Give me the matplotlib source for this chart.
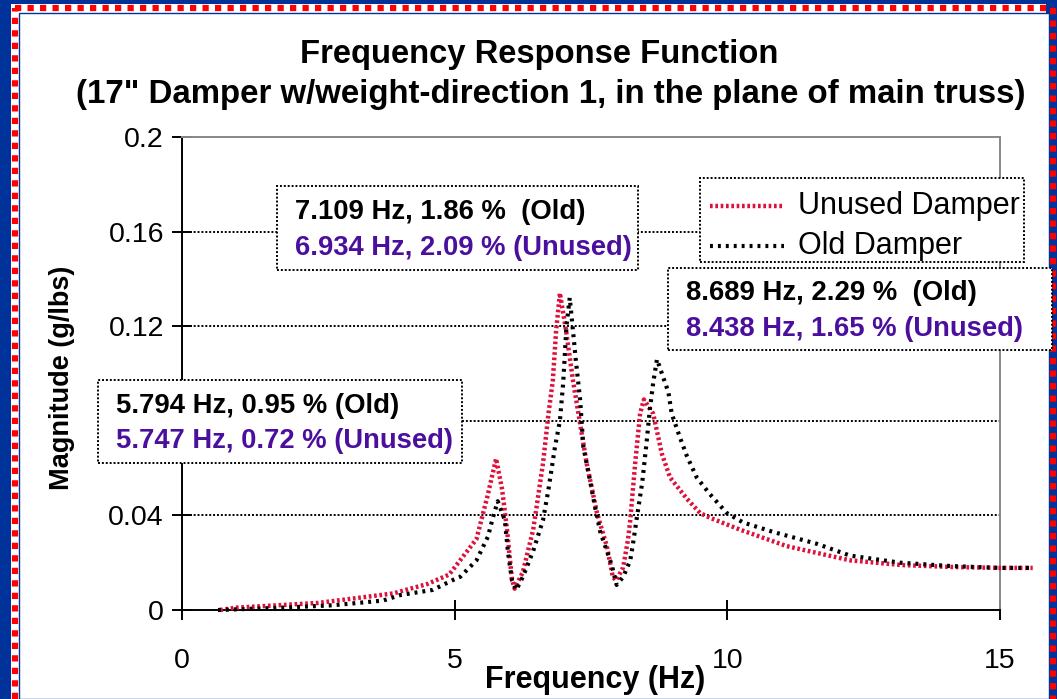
import matplotlib
matplotlib.use("Agg")
import matplotlib.pyplot as plt
from matplotlib.patches import Rectangle
from matplotlib.lines import Line2D

plt.rcParams['font.family'] = ['Liberation Sans', 'DejaVu Sans']

# Unused damper (red dotted)
unused_f = [0.7, 1.0, 2.5, 3.87, 4.5, 4.9, 5.1, 5.4, 5.6, 5.76, 5.87, 5.96, 6.05, 6.1,
            6.25, 6.44, 6.62, 6.72, 6.8, 6.86, 6.93, 7.03, 7.17, 7.42, 7.61, 7.79, 7.9,
            7.96, 8.09, 8.18, 8.22, 8.31, 8.4, 8.47, 8.64, 8.8, 8.95, 9.26, 9.5, 9.68,
            10.23, 11.09, 12.25, 13.2, 14.1, 15.0, 15.6]
unused_m = [0.0, 0.001, 0.003, 0.007, 0.011, 0.015, 0.021, 0.030, 0.048, 0.064, 0.051,
            0.034, 0.013, 0.009, 0.016, 0.034, 0.062, 0.083, 0.097, 0.118, 0.134, 0.120,
            0.097, 0.062, 0.041, 0.027, 0.014, 0.0125, 0.018, 0.030, 0.038, 0.062, 0.083,
            0.089, 0.083, 0.066, 0.056, 0.047, 0.041, 0.039, 0.034, 0.027, 0.021, 0.019,
            0.0182, 0.0178, 0.0178]

# Old damper (black marks)
old_f = [0.66, 1.85, 2.77, 3.69, 4.0, 4.6, 4.97, 5.1, 5.4, 5.61, 5.7, 5.79, 5.92, 5.98,
         6.05, 6.13, 6.25, 6.44, 6.62, 6.72, 6.84, 6.93, 6.99, 7.05, 7.11, 7.17, 7.22,
         7.3, 7.36, 7.48, 7.57, 7.67, 7.79, 7.88, 7.97, 8.09, 8.22, 8.27, 8.34, 8.44,
         8.52, 8.58, 8.64, 8.71, 8.8, 8.92, 8.98, 9.13, 9.26, 9.44, 9.68, 9.99, 10.29,
         10.84, 11.64, 12.25, 13.17, 14.08, 15.0, 15.6]
old_m = [0.0, 0.001, 0.002, 0.004, 0.0063, 0.0085, 0.0127, 0.014, 0.021, 0.031, 0.039,
         0.046, 0.038, 0.024, 0.0127, 0.0085, 0.014, 0.025, 0.038, 0.051, 0.069, 0.080,
         0.096, 0.120, 0.132, 0.118, 0.106, 0.089, 0.069, 0.055, 0.044, 0.033, 0.025,
         0.019, 0.0106, 0.014, 0.021, 0.028, 0.039, 0.054, 0.071, 0.085, 0.096, 0.106,
         0.100, 0.092, 0.083, 0.073, 0.065, 0.056, 0.049, 0.041, 0.037, 0.033, 0.028,
         0.023, 0.020, 0.0186, 0.0178, 0.0178]

series_names = ["Unused Damper", "Old Damper"]
title_lines = ["Frequency Response Function",
               "(17\" Damper w/weight-direction 1, in the plane of main truss)"]
x_ticks = [0, 5, 10, 15]
y_ticks = [0, 0.04, 0.08, 0.12, 0.16, 0.2]
# the 0.08 label is hidden behind an annotation box in the original
y_ticklabels = ["0", "0.04", "", "0.12", "0.16", "0.2"]

ann_old = ["7.109 Hz, 1.86 %  (Old)", "8.689 Hz, 2.29 %  (Old)", "5.794 Hz, 0.95 % (Old)"]
ann_unused = ["6.934 Hz, 2.09 % (Unused)", "8.438 Hz, 1.65 % (Unused)", "5.747 Hz, 0.72 % (Unused)"]

RED = '#e0103c'
PURPLE = '#4b0f9e'
W, H = 1057, 699
fig = plt.figure(figsize=(W / 100, H / 100), dpi=100)
fig.patch.set_facecolor('#003399')


def fx(px):
    return px / W


def fy(py):
    return 1 - py / H


# white inner area and red dashed border
fig.patches.append(Rectangle((fx(11), 0), fx(1046 - 11), fy(4), transform=fig.transFigure,
                             facecolor='white', edgecolor='none', zorder=-3))
fig.patches.append(Rectangle((fx(19), 0), fx(1049 - 19), fy(13), transform=fig.transFigure,
                             facecolor='white', edgecolor='#003399', lw=1.0, zorder=-2))
for xs, ys in [([fx(14.5), fx(14.5)], [0, fy(7.5)]),
               ([fx(14.5), fx(1053)], [fy(7.5), fy(7.5)]),
               ([fx(1053), fx(1053)], [fy(7.5), 0])]:
    fig.lines.append(Line2D(xs, ys, transform=fig.transFigure, color='#ff0000', lw=4.5,
                            linestyle=(0, (1, 1)), zorder=-1))

ax = fig.add_axes([fx(182), 1 - 610 / H, fx(1000 - 182), (610 - 137) / H])
ax.set_facecolor('none')
ax.set_xlim(0, 15)
ax.set_ylim(0, 0.2)

red_ls = (0, (0.6, 0.6))
blk_ls = (0, (0.7, 1.2))
ax.plot(unused_f, unused_m, color=RED, lw=3.2, linestyle=red_ls, clip_on=False, zorder=3)
ax.plot(old_f, old_m, color='black', lw=3.0, linestyle=blk_ls, clip_on=False, zorder=4)

for yv in y_ticks[1:-1]:
    ax.axhline(yv, color='black', lw=1.4, linestyle=(0, (1, 1)), zorder=1)

for s in ['left', 'bottom']:
    ax.spines[s].set_linestyle((0, (1, 1)))
    ax.spines[s].set_linewidth(1.4)
    ax.spines[s].set_color('black')
for s in ['top', 'right']:
    ax.spines[s].set_color('#888888')
    ax.spines[s].set_linewidth(1.4)
    ax.spines[s].set_linestyle((0, (2, 1)))

ax.set_xticks(x_ticks)
ax.set_xticklabels([str(v) for v in x_ticks])
ax.set_yticks(y_ticks)
ax.set_yticklabels(y_ticklabels)
ax.tick_params(axis='both', direction='inout', length=14, width=1.4, labelsize=20.5,
               colors='black')
ax.tick_params(axis='x', pad=20)
ax.tick_params(axis='y', pad=6)

fig.text(fx(595), fy(680), "Frequency (Hz)", ha='center', va='center', fontsize=22,
         fontweight='bold')
fig.text(fx(62), fy(378), "Magnitude (g/lbs)", ha='center', va='center', fontsize=19.5,
         fontweight='bold', rotation=90)

fig.text(fx(539), fy(55), title_lines[0], ha='center', va='center', fontsize=23.6,
         fontweight='bold')
fig.text(fx(551), fy(95), title_lines[1], ha='center', va='center', fontsize=23.8,
         fontweight='bold')

# annotation boxes (pixel coords)
boxes = [(277, 186, 638, 270), (668, 268, 1052, 350), (98, 380, 462, 463)]
for (x0, y0, x1, y1), t_old, t_un in zip(boxes, ann_old, ann_unused):
    fig.patches.append(Rectangle((fx(x0), fy(y1)), fx(x1 - x0), (y1 - y0) / H,
                                 transform=fig.transFigure, facecolor='white',
                                 edgecolor='black', lw=1.4, linestyle=(0, (1, 1)), zorder=5))
    fig.text(fx(x0 + 18), fy(y0 + (y1 - y0) * 0.31), t_old, ha='left', va='center',
             fontsize=19.8, fontweight='bold', color='black', zorder=6)
    fig.text(fx(x0 + 18), fy(y0 + (y1 - y0) * 0.74), t_un, ha='left', va='center',
             fontsize=19.7, fontweight='bold', color=PURPLE, zorder=6)

# legend (drawn manually to match the original placement)
lx0, ly0, lx1, ly1 = 700, 178, 1024, 262
fig.patches.append(Rectangle((fx(lx0), fy(ly1)), fx(lx1 - lx0), (ly1 - ly0) / H,
                             transform=fig.transFigure, facecolor='white',
                             edgecolor='black', lw=1.4, linestyle=(0, (1, 1)), zorder=5))
for (name, col, ls, lw), yy in zip([(series_names[0], RED, red_ls, 3.2),
                                    (series_names[1], 'black', blk_ls, 3.0)], [206, 246]):
    fig.lines.append(Line2D([fx(710), fx(784)], [fy(yy), fy(yy)], transform=fig.transFigure,
                            color=col, lw=lw, linestyle=ls, zorder=6))
    fig.text(fx(798), fy(yy), name, ha='left', va='center', fontsize=22, zorder=6)

fig.savefig("out.png", dpi=100, facecolor=fig.get_facecolor())
